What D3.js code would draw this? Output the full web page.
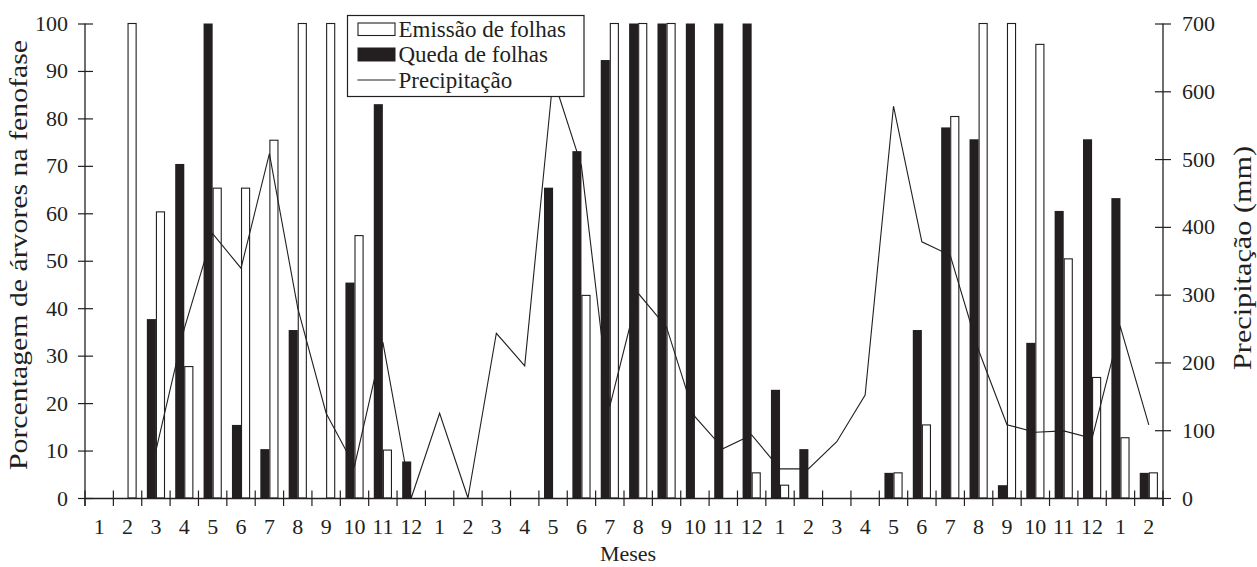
<!DOCTYPE html>
<html>
<head>
<meta charset="utf-8">
<script src="https://cdn.jsdelivr.net/npm/d3@7/dist/d3.min.js"></script>
<style>
html,body{margin:0;padding:0;background:#fff;}
svg{display:block;}
text{font-family:"Liberation Serif","Times New Roman",serif;fill:#231f20;}
</style>
</head>
<body>
<svg id="chart" width="1257" height="567"></svg>
<script>
const months = [1,2,3,4,5,6,7,8,9,10,11,12,1,2,3,4,5,6,7,8,9,10,11,12,1,2,3,4,5,6,7,8,9,10,11,12,1,2];
const emissao = [0,100,60.3,27.7,65.3,65.3,75.4,100,100,55.3,10.1,0, 0,0,0,0,0,42.7,100,100,100,0,0,5.3,2.7,0, 0,0,5.3,15.4,80.4,100,100,95.6,50.4,25.4,12.7,5.3];
const queda = [0,0,37.7,70.4,100,15.4,10.3,35.4,0,45.4,83,7.7, 0,0,0,0,65.4,73.1,92.3,100,100,100,100,100,22.8,10.3, 0,0,5.3,35.4,78.1,75.6,2.7,32.7,60.5,75.6,63.2,5.3];
const precipitacao = [null,null,70,250,390,339,508,280,125,47,230,0, 125,0,243,195,620,490,135,302,252,120,73,93,43,43, 83,152,578,378,358,218,108,97,99,88,252,108];
const leftTicks = [0,10,20,30,40,50,60,70,80,90,100];
const rightTicks = [0,100,200,300,400,500,600,700];
const seriesNames = ["Emissão de folhas","Queda de folhas","Precipitação"];

const ink = "#231f20";
const FONT = '"Liberation Serif","Times New Roman",serif';
const svg = d3.select("#chart");
const L = 85, R = 1163, T = 23.5, B = 498;
const idx = d3.range(months.length);
const x = d3.scaleBand().domain(idx).range([L, R]).paddingInner(0).paddingOuter(0);
const yL = d3.scaleLinear().domain([0,100]).range([B, T]);
const yR = d3.scaleLinear().domain([0,700]).range([B, T]);
const bw = x.bandwidth() * 0.32;
const cx = i => x(i) + x.bandwidth()/2;

// bars: Queda (black, left) and Emissão (white, right)
svg.append("g").selectAll("rect").data(idx.filter(i => queda[i] > 0)).join("rect")
  .attr("x", i => cx(i) - bw).attr("width", bw)
  .attr("y", i => yL(queda[i])).attr("height", i => B - yL(queda[i]))
  .attr("fill", ink);
svg.append("g").selectAll("rect").data(idx.filter(i => emissao[i] > 0)).join("rect")
  .attr("x", i => cx(i) + 0.5).attr("width", bw - 1)
  .attr("y", i => yL(emissao[i])).attr("height", i => B - yL(emissao[i]))
  .attr("fill", "#fff").attr("stroke", ink).attr("stroke-width", 1.1);

// precipitation line
const line = d3.line().defined(d => d.v !== null).x(d => cx(d.i)).y(d => yR(d.v));
svg.append("path").datum(idx.map(i => ({i, v: precipitacao[i]})))
  .attr("d", line).attr("fill", "none").attr("stroke", ink).attr("stroke-width", 1.1);

// x axis
const xa = svg.append("g").attr("transform", `translate(0,${B})`)
  .call(d3.axisBottom(x).tickSize(0).tickPadding(20).tickFormat(i => months[i]));
xa.select(".domain").attr("stroke", ink).attr("stroke-width", 1.3);
xa.selectAll("text").attr("font-size", 22).style("font-family", FONT).attr("fill", ink);
svg.append("g").selectAll("line").data(d3.range(months.length + 1)).join("line")
  .attr("x1", k => L + k * x.step()).attr("x2", k => L + k * x.step())
  .attr("y1", B - 7.5).attr("y2", B + 8).attr("stroke", ink).attr("stroke-width", 1.2);

// left axis
const ya = svg.append("g").attr("transform", `translate(${L},0)`)
  .call(d3.axisLeft(yL).tickValues(leftTicks).tickSize(7).tickPadding(10));
ya.select(".domain").attr("stroke", ink).attr("stroke-width", 1.3).attr("d", `M0,${T}V${B+8}`);
ya.selectAll(".tick line").attr("stroke", ink).attr("stroke-width", 1.2).attr("x2", 8).attr("x1", -7);
ya.selectAll("text").attr("font-size", 22).style("font-family", FONT).attr("fill", ink);

// right axis
const yra = svg.append("g").attr("transform", `translate(${R},0)`)
  .call(d3.axisRight(yR).tickValues(rightTicks).tickSize(8).tickPadding(11));
yra.select(".domain").attr("stroke", ink).attr("stroke-width", 1.3).attr("d", `M0,${T}V${B+8}`);
yra.selectAll(".tick line").attr("stroke", ink).attr("stroke-width", 1.2).attr("x1", -8).attr("x2", 8);
yra.selectAll("text").attr("font-size", 22).style("font-family", FONT).attr("fill", ink);

// axis titles
svg.append("text").attr("x", 628).attr("y", 561).attr("text-anchor", "middle")
  .attr("font-size", 22).style("font-family", FONT).text("Meses");
svg.append("text").attr("transform", "translate(27,255) rotate(-90)").attr("text-anchor", "middle")
  .attr("font-size", 25).style("font-family", FONT)
  .attr("textLength", 430).attr("lengthAdjust", "spacingAndGlyphs")
  .text("Porcentagem de árvores na fenofase");
svg.append("text").attr("transform", "translate(1251,258) rotate(-90)").attr("text-anchor", "middle")
  .attr("font-size", 25).style("font-family", FONT)
  .attr("textLength", 224).attr("lengthAdjust", "spacingAndGlyphs")
  .text("Precipitação (mm)");

// legend
const lg = svg.append("g");
lg.append("rect").attr("x", 347.5).attr("y", 15.5).attr("width", 236.5).attr("height", 81)
  .attr("fill", "#fff").attr("stroke", ink).attr("stroke-width", 1.2);
lg.append("rect").attr("x", 358).attr("y", 23).attr("width", 37).attr("height", 12.5)
  .attr("fill", "#fff").attr("stroke", ink).attr("stroke-width", 1.1);
lg.append("rect").attr("x", 357.5).attr("y", 47.5).attr("width", 38).attr("height", 14).attr("fill", ink);
lg.append("line").attr("x1", 357.5).attr("x2", 395.5).attr("y1", 80).attr("y2", 80)
  .attr("stroke", ink).attr("stroke-width", 1.1);
const ly = [37, 62, 88];
seriesNames.forEach((n, k) => {
  lg.append("text").attr("x", 398.5).attr("y", ly[k]).attr("font-size", 23).style("font-family", FONT).text(n);
});
</script>
</body>
</html>
